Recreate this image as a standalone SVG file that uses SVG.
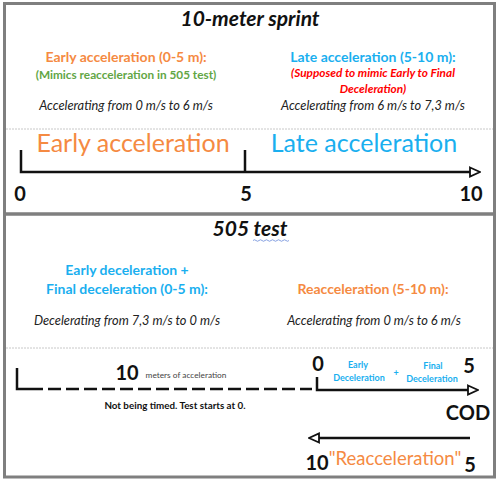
<svg xmlns="http://www.w3.org/2000/svg" width="500" height="482" viewBox="0 0 500 482">
<defs>
<style>
text{font-family:Lato,"Open Sans","Liberation Sans",sans-serif;text-anchor:middle}
.title{font-size:21px;font-weight:bold;font-style:italic;fill:#111}
.head{font-size:14px;font-weight:bold}
.sub{font-size:11.8px;font-weight:bold}
.it{font-size:12.8px;font-style:italic;fill:#222}
.big{font-size:25px}
.num{font-size:20px;font-weight:bold;fill:#111}
.orange{fill:#F58A42}
.blue{fill:#1AAFEF}
.green{fill:#62A645}
.red{fill:#FF0000}
.frame{fill:none;stroke:#7f7f7f;stroke-width:3}
.sep{stroke:#c8c8c8;stroke-width:1;stroke-dasharray:2 1}
.ax{fill:none;stroke:#111;stroke-width:2.5}
.tiny{font-size:9px;font-weight:bold}
</style>
<marker id="arr" viewBox="0 0 12 12" refX="2" refY="6" markerWidth="12" markerHeight="12" markerUnits="userSpaceOnUse" orient="auto">
<path d="M1,1.5 L11,6 L1,10.5 Z" fill="#fff" stroke="#111" stroke-width="1.8"/>
</marker>
</defs>
<rect width="500" height="482" fill="#fff"/>
<g id="frames">
<rect class="frame" x="4.5" y="3.5" width="490" height="210.5"/>
<rect class="frame" x="4.5" y="214" width="490" height="263"/>
<line class="sep" x1="6" y1="129" x2="493" y2="129"/>
<line class="sep" x1="6" y1="348" x2="493" y2="348"/>
</g>
<g id="sprint-title"><text class="title" x="250" y="26">10-meter sprint</text></g>
<g id="early-acc">
<text class="head orange" x="126" y="62">Early acceleration (0-5 m):</text>
<text class="sub green" x="126" y="79">(Mimics reacceleration in 505 test)</text>
<text class="it" x="126" y="110">Accelerating from 0 m/s to 6 m/s</text>
</g>
<g id="late-acc">
<text class="head blue" x="373" y="62">Late acceleration (5-10 m):</text>
<text class="sub red" x="373" y="77" font-style="italic" font-size="12.2">(Supposed to mimic Early to Final</text>
<text class="sub red" x="373" y="93" font-style="italic" font-size="12.2">Deceleration)</text>
<text class="it" x="373" y="110">Accelerating from 6 m/s to 7,3 m/s</text>
</g>
<g id="sprint-axis">
<text class="big orange" x="133" y="152">Early acceleration</text>
<text class="big blue" x="364" y="152">Late acceleration</text>
<text class="num" x="20" y="201">0</text>
<text class="num" x="246" y="201">5</text>
<text class="num" x="471" y="201">10</text>
</g>
<g id="test-title">
<text class="title" x="250" y="236">505 test</text>
<path d="M253,240.5 q1.5,-1.5 3,0 t3,0 t3,0 t3,0 t3,0 t3,0 t3,0 t3,0 t3,0 t3,0 t3,0 t3,0" fill="none" stroke="#6b8cd9" stroke-width="0.8"/>
</g>
<g id="deceleration">
<text class="head blue" x="127" y="275">Early deceleration +</text>
<text class="head blue" x="127" y="294">Final deceleration (0-5 m):</text>
<text class="it" x="127" y="325">Decelerating from 7,3 m/s to 0 m/s</text>
</g>
<g id="reacceleration">
<text class="head orange" x="373" y="294">Reacceleration (5-10 m):</text>
<text class="it" x="374" y="325">Accelerating from 0 m/s to 6 m/s</text>
</g>
<g id="test-axis-labels">
<text class="num" x="127" y="380" font-size="17">10</text>
<text x="186" y="378" font-size="8.3" fill="#444">meters of acceleration</text>
<text x="175" y="409" font-size="9.8" font-weight="bold" fill="#111">Not being timed. Test starts at 0.</text>
<text class="num" x="318" y="371" font-size="17">0</text>
<text class="tiny blue" x="358" y="368">Early</text>
<text class="tiny blue" x="359" y="381">Deceleration</text>
<text class="tiny blue" x="396" y="376">+</text>
<text class="tiny blue" x="433" y="369">Final</text>
<text class="tiny blue" x="432" y="382">Deceleration</text>
<text class="num" x="469" y="373" font-size="17">5</text>
<text class="num" x="468" y="420" font-size="14">COD</text>
<text class="num" x="317" y="470" font-size="15.5">10</text>
<text class="orange" x="395" y="465" font-size="18.5">"Reacceleration"</text>
<text class="num" x="470" y="472" font-size="17">5</text>
</g>
<g id="connectors">
<path class="ax" d="M21,150 V172 H471" marker-end="url(#arr)"/>
<line class="ax" x1="245" y1="150" x2="245" y2="172"/>
<path class="ax" d="M17,368 V389 H30"/>
<line class="ax" x1="30" y1="389" x2="312" y2="389" stroke-dasharray="13 5"/>
<path class="ax" d="M317,377 V390 H469" marker-end="url(#arr)"/>
<line class="ax" x1="470" y1="438" x2="318" y2="438" marker-end="url(#arr)"/>
</g>
</svg>
